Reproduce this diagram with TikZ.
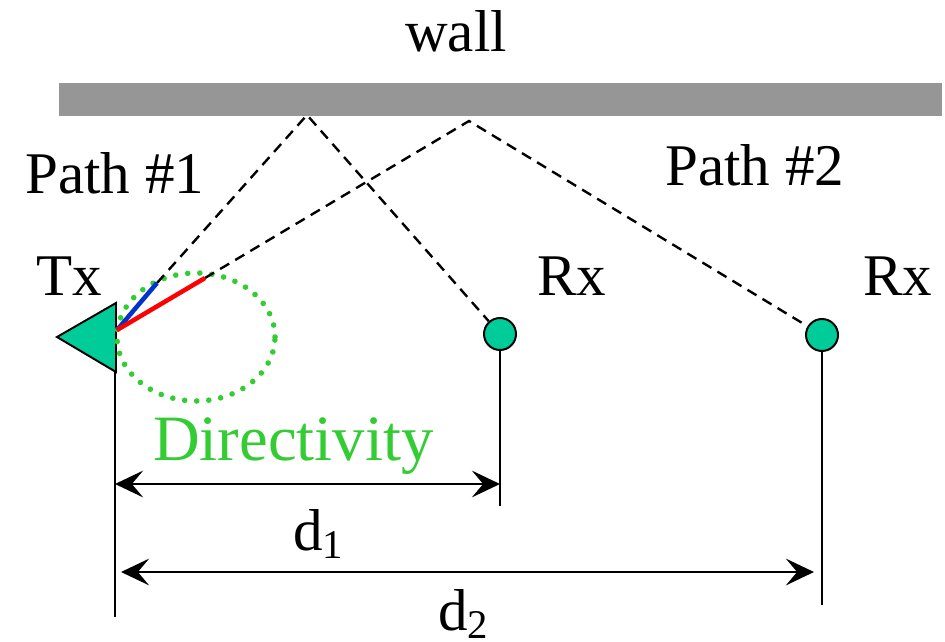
\documentclass[tikz,border=0pt]{standalone}
\usepackage{fontspec}
\setmainfont{Liberation Serif}
\usepackage{tikz}
\usetikzlibrary{
	arrows.meta,
	calc,
	positioning
}
\definecolor{WallGray}{RGB}{150,150,150}
\definecolor{AntGreen}{RGB}{0,204,153}
\definecolor{DirGreen}{RGB}{51,204,51}
\definecolor{BeamBlue}{RGB}{0,51,204}
\definecolor{BeamRed}{RGB}{255,0,0}

\tikzset{
	lbl/.style={inner sep=0pt, anchor=base west, font=\fontsize{42}{48}\selectfont},
	rxnode/.style={circle, draw=black, line width=1.4pt, fill=AntGreen, minimum size=0.8cm, inner sep=0pt},
	pathline/.style={dashed, line width=1.7pt, dash pattern=on 7.5pt off 5pt},
	dimarrow/.style={line width=1.6pt, {Stealth[length=20pt,width=19pt,inset=8pt]}-{Stealth[length=20pt,width=19pt,inset=8pt]}},
	beam/.style={line width=3.2pt}
}

\begin{document}
\begin{tikzpicture}[x=0.025cm, y=0.025cm]
			\useasboundingbox (0,0) rectangle (945,641);
			
			% wall
			\fill[WallGray] (59,525) rectangle (942,558);
			\node[lbl, anchor=base] (wall) at (456,589) {wall};
			
			% reflection points
			\coordinate (ref1) at (307,526);
			\coordinate (ref2) at (469,520);
			
			% Tx antenna
			\coordinate (tx) at (117,311);
			\coordinate (txb) at (115,24);
			\draw[line width=1.4pt] (115,269) -- (txb);
			\filldraw[fill=AntGreen, draw=black, line width=1.4pt] (57,304) -- (116,338) -- (116,269) -- cycle;
			\node[lbl] (txlabel) at (36,346) {Tx};
			
			% directivity
			\draw[DirGreen, line width=4pt, line cap=round, dash pattern=on 0pt off 8.6pt] (196,304) ellipse [x radius=79, y radius=64];
			\node[lbl, text=DirGreen, font=\fontsize{46}{52}\selectfont] (dir) at (153,181) {Directivity};
			
			% Rx nodes
			\node[rxnode] (rx1) at (500,307) {};
			\node[rxnode] (rx2) at (822,306) {};
			\node[lbl] (rx1label) at (537,346) {Rx};
			\node[lbl] (rx2label) at (863,346) {Rx};
			\coordinate (rx1b) at (500,135);
			\coordinate (rx2b) at (822,36);
			\draw[line width=1.4pt] (rx1) -- (rx1b);
			\draw[line width=1.4pt] (rx2) -- (rx2b);
			
			% Path #1 and Path #2
			\coordinate (blueend) at (157,358);
			\coordinate (redend) at (205,363);
			\draw[pathline] (blueend) -- (ref1) -- (rx1);
			\draw[pathline] (redend) -- (ref2) -- (rx2);
			\draw[beam, BeamBlue] (tx) -- (blueend);
			\draw[beam, BeamRed] (tx) -- (redend);
			\node[lbl] (path1) at (25,448) {Path \#1};
			\node[lbl] (path2) at (665,456) {Path \#2};
			
			% distances
			\coordinate (d1a) at (115,157);
			\coordinate (d1b) at (500,157);
			\coordinate (d2a) at (121,69);
			\coordinate (d2b) at (814,69);
			\draw[dimarrow] (d1a) -- (d1b);
			\draw[dimarrow] (d2a) -- (d2b);
			\node[lbl] (d1) at (293,91) {d\raisebox{-0.15em}{\fontsize{29}{30}\selectfont 1}};
			\node[lbl] (d2) at (438,11) {d\raisebox{-0.15em}{\fontsize{29}{30}\selectfont 2}};
		\end{tikzpicture}
\end{document}
